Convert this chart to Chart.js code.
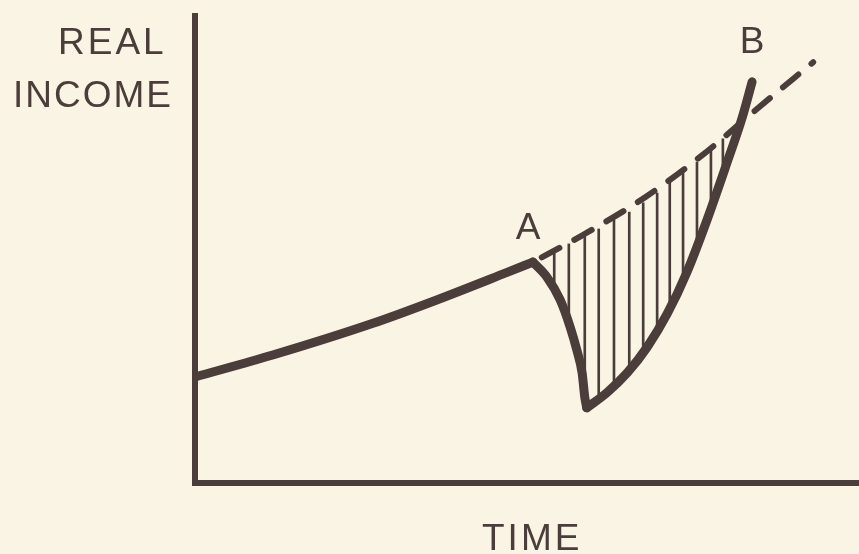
<!DOCTYPE html>
<html>
<head>
<meta charset="utf-8">
<script src="https://cdn.jsdelivr.net/npm/chart.js@4.4.1/dist/chart.umd.min.js"></script>
<style>
  html, body { margin: 0; padding: 0; background: #f9f4e4; }
  #wrap { position: relative; width: 859px; height: 554px; }
</style>
</head>
<body>
<div id="wrap"><canvas id="incomeChart"></canvas></div>
<script>
/* ================= DATA (time / real income, chart units 0-100) ================= */
const growthTime = [0, 11.7, 26.8, 36.4, 47.0, 50.9];
const growthIncome = [22.7, 27.4, 34.2, 39.2, 45.1, 47.3];

const slumpTime = [50.9, 53.0, 55.0, 56.5, 57.5, 58.3, 58.7, 59.0];
const slumpIncome = [47.3, 44.1, 39.2, 33.4, 28.5, 23.6, 18.4, 16.1];

const recoveryTime = [59.0, 62.0, 65.1, 68.1, 71.1, 74.1, 77.1, 80.1, 82.4, 83.9];
const recoveryIncome = [16.1, 19.3, 23.6, 29.1, 36.2, 45.2, 56.3, 68.5, 78.2, 85.9];

// old trend continued past A (dashed)
const trendTime = [50.9, 58.4, 67.8, 76.4, 84.8, 93.1];
const trendIncome = [47.3, 53.1, 61.2, 70.2, 80.3, 90.1];

// hatching = income lost between trend and actual path
const lossTime = [54.1, 56.3, 58.7, 60.8, 63.1, 65.4, 67.5, 69.6, 71.5, 73.5, 75.6, 77.7, 79.5];
const lossLow = [41.5, 34.0, 18.4, 18.0, 20.8, 24.0, 28.1, 32.5, 37.5, 43.5, 50.7, 58.7, 66.2];
const lossHigh = [49.3, 51.2, 52.9, 54.4, 56.3, 58.0, 60.0, 62.1, 64.5, 66.4, 68.7, 71.3, 73.7];

const yAxisLabel = ["REAL", "INCOME"];
const xAxisLabel = "TIME";
const pointLabels = ["A", "B"];

/* ================= STYLE ================= */
const INK = "#4a3d3a";
const FONT = "37px 'Liberation Sans', Arial, sans-serif";

function toPoints(xs, ys) {
  return xs.map((x, i) => ({ x, y: ys[i] }));
}

function curve(xs, ys) {
  return {
    type: "line",
    data: toPoints(xs, ys),
    borderColor: INK,
    borderWidth: 9,
    borderCapStyle: "round",
    borderJoinStyle: "round",
    cubicInterpolationMode: "monotone",
    pointRadius: 0,
    fill: false,
    order: 1
  };
}

/* ================= LABELS ================= */
const labelPlugin = {
  id: "incomeLabels",
  afterDraw(chart) {
    const { ctx, chartArea, scales } = chart;
    const x = scales.x, y = scales.y;
    ctx.save();
    ctx.fillStyle = INK;
    ctx.font = FONT;
    ctx.textBaseline = "alphabetic";

    // axis labels
    ctx.letterSpacing = "3px";
    ctx.textAlign = "left";
    ctx.fillText(yAxisLabel[0], chartArea.left - 137, chartArea.top + 38);
    ctx.letterSpacing = "2px";
    ctx.fillText(yAxisLabel[1], chartArea.left - 182, chartArea.top + 91);
    ctx.letterSpacing = "3px";
    ctx.fillText(xAxisLabel, chartArea.left + 287, chartArea.bottom + 67);

    // point labels A and B
    ctx.letterSpacing = "0px";
    ctx.textAlign = "center";
    const aX = x.getPixelForValue(growthTime[growthTime.length - 1]);
    const aY = y.getPixelForValue(growthIncome[growthIncome.length - 1]);
    ctx.fillText(pointLabels[0], aX - 5, aY - 23);
    const bX = x.getPixelForValue(recoveryTime[recoveryTime.length - 1]);
    const bY = y.getPixelForValue(recoveryIncome[recoveryIncome.length - 1]);
    ctx.fillText(pointLabels[1], bX, bY - 29);
    ctx.restore();
  }
};

/* ================= CHART ================= */
const axisOpts = {
  type: "linear",
  min: 0,
  max: 100,
  offset: false,
  ticks: { display: false },
  grid: { display: false, drawTicks: false },
  border: { display: true, color: INK, width: 6 }
};

new Chart(document.getElementById("incomeChart"), {
  type: "line",
  data: {
    datasets: [
      curve(growthTime, growthIncome),
      curve(slumpTime, slumpIncome),
      curve(recoveryTime, recoveryIncome),
      {
        type: "line",
        data: toPoints(trendTime, trendIncome),
        borderColor: INK,
        borderWidth: 6,
        borderDash: [20, 17],
        borderDashOffset: 27,
        borderCapStyle: "round",
        cubicInterpolationMode: "monotone",
        pointRadius: 0,
        fill: false,
        order: 2
      },
      {
        type: "bar",
        data: lossTime.map((t, i) => ({ x: t, y: [lossLow[i], lossHigh[i]] })),
        backgroundColor: INK,
        borderWidth: 0,
        barThickness: 2,
        grouped: false,
        order: 3
      }
    ]
  },
  options: {
    responsive: true,
    maintainAspectRatio: false,
    animation: false,
    layout: { padding: { left: 195, top: 16, right: 0, bottom: 71 } },
    plugins: {
      legend: { display: false },
      tooltip: { enabled: false }
    },
    scales: {
      x: { ...axisOpts },
      y: { ...axisOpts }
    }
  },
  plugins: [labelPlugin]
});
</script>
</body>
</html>
